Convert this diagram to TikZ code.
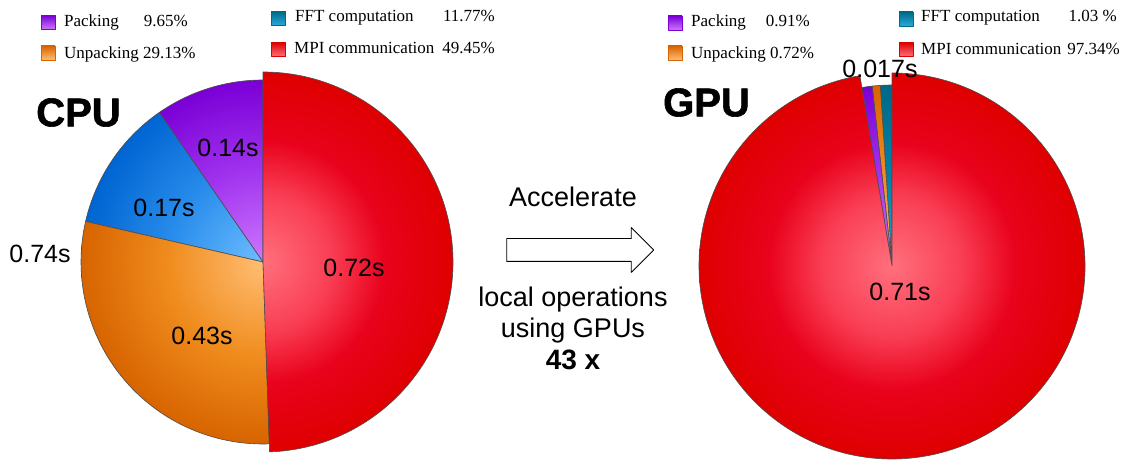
\documentclass[tikz,border=0pt]{standalone}
\usepackage{fontspec}
\setmainfont{Liberation Serif}
\newfontfamily\arialfont{Liberation Sans}
\newfontfamily\heavyfont{Liberation Sans Bold}[FakeBold=1.5]
\usetikzlibrary{shapes.arrows}

\definecolor{mpilight}{RGB}{255,112,125}
\definecolor{mpipink}{RGB}{249,62,84}
\definecolor{mpimid}{RGB}{233,2,28}
\definecolor{mpidark}{RGB}{222,0,0}
\definecolor{pklight}{RGB}{205,120,255}
\definecolor{pkmid}{RGB}{160,50,238}
\definecolor{pkdark}{RGB}{122,0,214}
\definecolor{fftlight}{RGB}{110,190,255}
\definecolor{fftmid}{RGB}{40,140,235}
\definecolor{fftdark}{RGB}{0,100,210}
\definecolor{upklight}{RGB}{255,190,115}
\definecolor{upkmid}{RGB}{240,140,30}
\definecolor{upkdark}{RGB}{215,100,0}
\definecolor{teallight}{RGB}{40,170,220}
\definecolor{tealmid}{RGB}{0,130,170}
\definecolor{tealdark}{RGB}{0,105,135}

\pgfdeclareradialshading{mpishade}{\pgfpointorigin}{color(0bp)=(mpilight); color(9bp)=(mpipink); color(16bp)=(mpimid); color(25bp)=(mpidark); color(50bp)=(mpidark)}
\pgfdeclareradialshading{pkshade}{\pgfpointorigin}{color(0bp)=(pklight); color(13bp)=(pkmid); color(25bp)=(pkdark); color(50bp)=(pkdark)}
\pgfdeclareradialshading{fftshade}{\pgfpointorigin}{color(0bp)=(fftlight); color(13bp)=(fftmid); color(25bp)=(fftdark); color(50bp)=(fftdark)}
\pgfdeclareradialshading{upkshade}{\pgfpointorigin}{color(0bp)=(upklight); color(13bp)=(upkmid); color(25bp)=(upkdark); color(50bp)=(upkdark)}
\pgfdeclareradialshading{tealshade}{\pgfpointorigin}{color(0bp)=(teallight); color(12bp)=(tealmid); color(25bp)=(tealdark); color(50bp)=(tealdark)}

\begin{document}
\begin{tikzpicture}[x=1pt,y=1pt,line join=round,
	slice/.style={draw=black!70,line width=0.6pt},
	leg/.style={font=\fontsize{17}{20}\selectfont,inner sep=0pt},
	val/.style={font=\arialfont\fontsize{25}{30}\selectfont,inner sep=0pt},
	mid/.style={font=\arialfont\fontsize{27}{31}\selectfont,inner sep=0pt,anchor=base},
	title/.style={font=\heavyfont\fontsize{40}{48}\selectfont,inner sep=0pt}]
	\path[use as bounding box,fill=white] (0,0) rectangle (1123,462);

	% CPU pie
	\coordinate (cpuc) at (263,200);
	\foreach \a/\b/\r/\s in {90/124.74/182/pkshade,124.74/167.11/182/fftshade,167.11/271.98/182/upkshade,-88.02/90/190/mpishade}{
		\begin{scope}
			\clip (cpuc) -- ++(\a:\r) arc[start angle=\a,end angle=\b,radius=\r] -- cycle;
			\shade[shading=\s] (cpuc) circle (\r);
		\end{scope}
		\draw[slice] (cpuc) -- ++(\a:\r) arc[start angle=\a,end angle=\b,radius=\r] -- cycle;
	}

	% GPU pie
	\coordinate (gpuc) at (892,196);
	\foreach \a/\b/\r/\s in {90/93.71/181/tealshade,93.71/96.30/181/upkshade,96.30/99.58/181/pkshade,99.58/450/193/mpishade}{
		\begin{scope}
			\clip (gpuc) -- ++(\a:\r) arc[start angle=\a,end angle=\b,radius=\r] -- cycle;
			\shade[shading=\s] (gpuc) circle (\r);
		\end{scope}
		\draw[slice] (gpuc) -- ++(\a:\r) arc[start angle=\a,end angle=\b,radius=\r] -- cycle;
	}

	% legend boxes
	\foreach \x/\y/\d/\l in {48/439.5/pkdark/pklight,48/409/upkdark/upklight,278.5/443.5/tealdark/teallight,278.5/412.5/mpidark/mpilight,
		675/439/pkdark/pklight,675/409/upkdark/upklight,906/443/tealdark/teallight,906/412.5/mpidark/mpilight}
	\shade[top color=\d,bottom color=\l,draw=\d,line width=0.5pt] (\x-7,\y-7) rectangle (\x+7,\y+7);

	\node[leg,anchor=base west] (cpupk) at (64,435) {Packing};
	\node[leg,anchor=base east] (cpupkv) at (188,435) {9.65\%};
	\node[leg,anchor=base west] (cpuupk) at (64,403) {Unpacking 29.13\%};
	\node[leg,anchor=base west] (cpufft) at (295,440) {FFT computation};
	\node[leg,anchor=base east] (cpufftv) at (495,440) {11.77\%};
	\node[leg,anchor=base west] (cpumpi) at (294,408) {MPI communication};
	\node[leg,anchor=base east] (cpumpiv) at (495,408) {49.45\%};

	\node[leg,anchor=base west] (gpupk) at (691,435) {Packing};
	\node[leg,anchor=base east] (gpupkv) at (810,435) {0.91\%};
	\node[leg,anchor=base west] (gpuupk) at (691,403.5) {Unpacking 0.72\%};
	\node[leg,anchor=base west] (gpufft) at (921,440) {FFT computation};
	\node[leg,anchor=base east] (gpufftv) at (1117,440) {1.03 \%};
	\node[leg,anchor=base west] (gpumpi) at (921,407.5) {MPI communication};
	\node[leg,anchor=base east] (gpumpiv) at (1120,407.5) {97.34\%};

	% titles and times
	\node[title] (cpu) at (78.5,349.5) {CPU};
	\node[title] (gpu) at (706.5,359.5) {GPU};
	\node[val] (cpupkt) at (228,314.5) {0.14s};
	\node[val] (cpufftt) at (164,254) {0.17s};
	\node[val] (cpuupkt) at (202,126) {0.43s};
	\node[val] (cpumpit) at (354,194.5) {0.72s};
	\node[val] (cputotal) at (40,208) {0.74s};
	\node[val] (gpumpit) at (900,170) {0.71s};
	\node[val] (gpulocal) at (880,393.5) {0.017s};

	% speed-up
	\node[single arrow,draw,line width=0.8pt,minimum width=0pt,minimum height=147pt,inner xsep=0pt,inner ysep=11pt,
		single arrow head extend=11pt,single arrow tip angle=90] (accel) at (574.5,212) {};
	\node[mid] (acceltxt) at (573,255) {Accelerate};
	\node[mid] (ops) at (573,155) {local operations};
	\node[mid] (usegpu) at (573,124) {using GPUs};
	\node[mid,font=\arialfont\bfseries\fontsize{28}{31}\selectfont] (speedup) at (573,92) {43 x};
\end{tikzpicture}
\end{document}
